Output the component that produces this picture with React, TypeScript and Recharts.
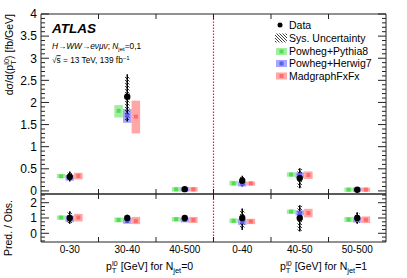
import React from "react";
import { ComposedChart, Scatter, ErrorBar, XAxis, YAxis, ReferenceArea, ReferenceLine } from "recharts";

const categories = ["0-30", "30-40", "40-500", "0-40", "40-50", "50-500"];

// upper panel, dσ/dpT [fb/GeV]
const dataVal = [0.32, 2.13, 0.04, 0.23, 0.29, 0.025];
const dataLo = [0.21, 1.57, 0.02, 0.1, 0.06, 0.01];
const dataHi = [0.44, 2.64, 0.06, 0.34, 0.51, 0.04];
const sysLo = [0.23, 1.6, 0.025, 0.11, 0.08, 0.015];
const sysHi = [0.42, 2.6, 0.055, 0.33, 0.5, 0.035];

const pythiaVal = [0.33, 1.81, 0.035, 0.17, 0.37, 0.028];
const pythiaLo = [0.29, 1.66, -0.015, 0.12, 0.32, -0.02];
const pythiaHi = [0.38, 1.94, 0.085, 0.23, 0.42, 0.075];
const herwigVal = [0.3, 1.7, 0.035, 0.16, 0.36, 0.028];
const herwigLo = [0.23, 1.54, -0.015, 0.1, 0.29, -0.02];
const herwigHi = [0.36, 1.85, 0.085, 0.21, 0.42, 0.075];
const madgraphVal = [0.34, 1.68, 0.035, 0.17, 0.36, 0.028];
const madgraphLo = [0.26, 1.3, -0.015, 0.12, 0.27, -0.02];
const madgraphHi = [0.41, 2.04, 0.085, 0.21, 0.44, 0.075];

// lower panel, Pred. / Obs.
const ratioData = [1, 1, 1, 1, 1, 1];
const ratioDataLo = [0.62, 0.67, 0.77, 0.22, 0.11, 0.62];
const ratioDataHi = [1.44, 1.22, 1.2, 1.62, 1.84, 1.37];
const ratioSysLo = [0.66, 0.7, 0.8, 0.28, 0.16, 0.66];
const ratioSysHi = [1.4, 1.2, 1.17, 1.56, 1.8, 1.33];
const ratioPythia = [1.03, 0.87, 0.92, 0.82, 1.42, 0.9];
const ratioPythiaLo = [0.89, 0.71, 0.77, 0.67, 1.27, 0.73];
const ratioPythiaHi = [1.17, 1.04, 1.07, 0.97, 1.55, 1.07];
const ratioHerwig = [0.97, 0.82, 0.87, 0.75, 1.33, 0.87];
const ratioHerwigLo = [0.73, 0.62, 0.71, 0.55, 1.17, 0.7];
const ratioHerwigHi = [1.15, 1.0, 1.02, 0.93, 1.5, 1.03];
const ratioMadgraph = [1.03, 0.8, 0.87, 0.77, 1.33, 0.88];
const ratioMadgraphLo = [0.77, 0.6, 0.67, 0.6, 1.04, 0.67];
const ratioMadgraphHi = [1.27, 1.07, 1.07, 0.95, 1.6, 1.1];

const FONT = "'Liberation Sans', Arial, Helvetica, sans-serif";
const AXIS = "#222";
const HALF_BOX = 0.074;
const HALF_HATCH = 0.04;

const modelStyles = [
  { name: "Powheg+Pythia8", off: -0.15, box: "#2fd62f", mark: "#52dc52" },
  { name: "Powheg+Herwig7", off: 0, box: "#3a3aff", mark: "#5c5cf2" },
  { name: "MadgraphFxFx", off: 0.15, box: "#ff3a3a", mark: "#ff6a6a" },
];

type Band = { val: number[]; lo: number[]; hi: number[] };

const steps = (a: number, b: number, s: number) => {
  const out: number[] = [];
  for (let v = a; v <= b + 1e-9; v += s) out.push(Math.round(v * 1000) / 1000);
  return out;
};
const onStep = (v: number, s: number) => Math.abs(v / s - Math.round(v / s)) < 1e-6;

const leftTick = (labelStep: number, majorStep: number) => (p: any) => {
  const v = p.payload.value;
  return (
    <g>
      <line x1={p.x} x2={p.x + (onStep(v, majorStep) ? 8 : 4)} y1={p.y} y2={p.y} stroke={AXIS} />
      {onStep(v, labelStep) && (
        <text x={p.x - 4} y={p.y + 4.3} textAnchor="end" fontSize={12} fontFamily={FONT} fill="#000">
          {String(v)}
        </text>
      )}
    </g>
  );
};

const rightTick = (majorStep: number) => (p: any) => (
  <line x1={p.x} x2={p.x - (onStep(p.payload.value, majorStep) ? 8 : 4)} y1={p.y} y2={p.y} stroke={AXIS} />
);

const upTick = (p: any) => <line x1={p.x} x2={p.x} y1={p.y} y2={p.y - 5} stroke={AXIS} />;
const downTick = (p: any) => <line x1={p.x} x2={p.x} y1={p.y} y2={p.y + 5} stroke={AXIS} />;

const labelTick = (p: any) => {
  const v = p.payload.value;
  if (onStep(v, 1)) return upTick(p);
  return (
    <text x={p.x} y={p.y + 11} textAnchor="middle" fontSize={10} fontFamily={FONT} fill="#000">
      {categories[Math.floor(v)]}
    </text>
  );
};

const edgeTicks = [1, 2, 3, 4, 5];

function Panel(props: {
  height: number;
  margin: { top: number; right: number; bottom: number; left: number };
  domain: [number, number];
  yTicks: number[];
  labelStep: number;
  majorStep: number;
  data: Band;
  sys: { lo: number[]; hi: number[] };
  models: Band[];
  bottomTicks: number[];
  bottomTick: any;
}) {
  const { data, sys, models } = props;
  const dataRows = categories.map((_, i) => ({
    x: i + 0.5,
    y: data.val[i],
    err: [data.val[i] - data.lo[i], data.hi[i] - data.val[i]],
  }));
  return (
    <ComposedChart width={407} height={props.height} margin={props.margin} style={{ overflow: "visible" }}>
      <XAxis
        dataKey="x"
        type="number"
        domain={[0, 6]}
        allowDataOverflow
        ticks={props.bottomTicks}
        interval={0}
        height={1}
        tickSize={0}
        tickMargin={0}
        tickLine={false}
        tick={props.bottomTick}
        axisLine={{ stroke: AXIS }}
      />
      <XAxis
        xAxisId="top"
        orientation="top"
        dataKey="x"
        type="number"
        domain={[0, 6]}
        allowDataOverflow
        ticks={edgeTicks}
        interval={0}
        height={1}
        tickSize={0}
        tickMargin={0}
        tickLine={false}
        tick={downTick}
        axisLine={{ stroke: AXIS }}
      />
      <YAxis
        type="number"
        domain={props.domain}
        allowDataOverflow
        ticks={props.yTicks}
        interval={0}
        width={41}
        tickSize={0}
        tickMargin={0}
        tickLine={false}
        tick={leftTick(props.labelStep, props.majorStep)}
        axisLine={{ stroke: AXIS }}
      />
      <YAxis
        yAxisId="r"
        orientation="right"
        type="number"
        domain={props.domain}
        allowDataOverflow
        ticks={props.yTicks}
        interval={0}
        width={1}
        tickSize={0}
        tickMargin={0}
        tickLine={false}
        tick={rightTick(props.majorStep)}
        axisLine={{ stroke: AXIS }}
      />
      {models.map((m, k) =>
        categories.map((c, i) => (
          <ReferenceArea
            key={`${k}-${c}-${i}`}
            x1={i + 0.5 + modelStyles[k].off - HALF_BOX}
            x2={i + 0.5 + modelStyles[k].off + HALF_BOX}
            y1={m.lo[i]}
            y2={m.hi[i]}
            fill={modelStyles[k].box}
            fillOpacity={0.45}
            stroke="none"
          />
        ))
      )}
      {models.map((m, k) => (
        <Scatter
          key={modelStyles[k].name}
          data={categories.map((_, i) => ({ x: i + 0.5 + modelStyles[k].off, y: m.val[i] }))}
          dataKey="y"
          isAnimationActive={false}
          shape={(p: any) => <rect x={p.cx - 2} y={p.cy - 2} width={4} height={4} fill={modelStyles[k].mark} />}
        />
      ))}
      {categories.map((c, i) => (
        <ReferenceArea
          key={`sys-${c}-${i}`}
          x1={i + 0.5 - HALF_HATCH}
          x2={i + 0.5 + HALF_HATCH}
          y1={sys.lo[i]}
          y2={sys.hi[i]}
          fill="url(#hatch)"
          fillOpacity={1}
          stroke="none"
        />
      ))}
      <Scatter
        data={dataRows}
        dataKey="y"
        isAnimationActive={false}
        shape={(p: any) => <circle cx={p.cx} cy={p.cy} r={3.2} fill="#000" />}
      >
        <ErrorBar dataKey="err" direction="y" width={0} stroke="#000" strokeWidth={1.5} />
      </Scatter>
      <ReferenceLine x={3} stroke="#e8202a" strokeOpacity={1} strokeDasharray="1.5 1.5" strokeWidth={1.2} />
    </ComposedChart>
  );
}

function LegendBox({ y, color, mark }: { y: number; color: string; mark: string }) {
  return (
    <g>
      <rect x={276} y={y - 3.5} width={11} height={7} fill={color} fillOpacity={0.45} />
      <rect x={279.5} y={y - 2} width={4} height={4} fill={mark} />
    </g>
  );
}

export default function App() {
  const top = {
    data: { val: dataVal, lo: dataLo, hi: dataHi },
    sys: { lo: sysLo, hi: sysHi },
    models: [
      { val: pythiaVal, lo: pythiaLo, hi: pythiaHi },
      { val: herwigVal, lo: herwigLo, hi: herwigHi },
      { val: madgraphVal, lo: madgraphLo, hi: madgraphHi },
    ],
  };
  const ratio = {
    data: { val: ratioData, lo: ratioDataLo, hi: ratioDataHi },
    sys: { lo: ratioSysLo, hi: ratioSysHi },
    models: [
      { val: ratioPythia, lo: ratioPythiaLo, hi: ratioPythiaHi },
      { val: ratioHerwig, lo: ratioHerwigLo, hi: ratioHerwigHi },
      { val: ratioMadgraph, lo: ratioMadgraphLo, hi: ratioMadgraphHi },
    ],
  };
  const legendRows = [51.5, 63.5, 76];
  return (
    <div style={{ position: "absolute", left: 0, top: 0, width: 407, height: 278, background: "#fff", fontFamily: FONT }}>
      <svg width={0} height={0} style={{ position: "absolute" }}>
        <defs>
          <pattern id="hatch" patternUnits="userSpaceOnUse" width={3} height={3}>
            <path d="M0,0 L3,3 M-1,2 L1,4 M2,-1 L4,1" stroke="#111" strokeWidth={0.8} />
          </pattern>
        </defs>
      </svg>
      <div style={{ position: "absolute", left: 0, top: 0 }}>
        <Panel
          height={200}
          margin={{ top: 13, right: 20, bottom: 5, left: 0 }}
          domain={[-0.07, 4]}
          yTicks={steps(0, 4, 0.1)}
          labelStep={0.5}
          majorStep={0.5}
          bottomTicks={edgeTicks}
          bottomTick={upTick}
          {...top}
        />
      </div>
      <div style={{ position: "absolute", left: 0, top: 190 }}>
        <Panel
          height={88}
          margin={{ top: 3, right: 20, bottom: 35, left: 0 }}
          domain={[-0.57, 2.57]}
          yTicks={steps(-0.5, 2.5, 0.25)}
          labelStep={1}
          majorStep={1}
          bottomTicks={steps(0.5, 5.5, 0.5)}
          bottomTick={labelTick}
          {...ratio}
        />
      </div>
      <svg
        width={407}
        height={278}
        style={{ position: "absolute", left: 0, top: 0, pointerEvents: "none" }}
        fontFamily={FONT}
      >
        <text x={52} y={32.5} fontSize={13.5} fontWeight="bold" fontStyle="italic">ATLAS</text>
        <text x={52} y={48.5} fontSize={8.3}>
          <tspan fontStyle="italic">H→WW→eνμν</tspan>; <tspan fontStyle="italic">N</tspan>
          <tspan fontSize={6} dy={2}>jet</tspan>
          <tspan dy={-2}>=0,1</tspan>
        </text>
        <text x={52} y={63.3} fontSize={8.3}>
          √<tspan textDecoration="overline">s</tspan> = 13 TeV, 139 fb<tspan fontSize={6} dy={-3.5}>−1</tspan>
        </text>

        <circle cx={280} cy={25} r={2.5} fill="#000" />
        <text x={289} y={28.7} fontSize={10.5}>Data</text>
        <rect x={275} y={33.5} width={12} height={9} fill="url(#hatch)" />
        <text x={289} y={41.9} fontSize={10.5}>Sys. Uncertainty</text>
        {modelStyles.map((m, k) => (
          <g key={m.name}>
            <LegendBox y={legendRows[k]} color={m.box} mark={m.mark} />
            <text x={289} y={legendRows[k] + 3.7} fontSize={10.5}>{m.name}</text>
          </g>
        ))}

        <text transform="rotate(-90)" x={-14} y={13} textAnchor="end" fontSize={10.5}>
          dσ/d(p<tspan fontSize={7.5} dy={2.5}>T</tspan>
          <tspan fontSize={7.5} dx={-4.5} dy={-7}>l0</tspan>
          <tspan dy={4.5}>) [fb/GeV]</tspan>
        </text>
        <text transform="rotate(-90)" x={-200} y={12} textAnchor="end" fontSize={10.5}>Pred. / Obs.</text>

        <text x={106} y={270} fontSize={10.5}>
          p<tspan fontSize={7.5} dy={2.5}>T</tspan>
          <tspan fontSize={7.5} dx={-4.5} dy={-7}>l0</tspan>
          <tspan dy={4.5}> [GeV] for N</tspan>
          <tspan fontSize={7.5} dy={2.5}>jet</tspan>
          <tspan dy={-2.5}>=0</tspan>
        </text>
        <text x={280} y={270} fontSize={10.5}>
          p<tspan fontSize={7.5} dy={2.5}>T</tspan>
          <tspan fontSize={7.5} dx={-4.5} dy={-7}>l0</tspan>
          <tspan dy={4.5}> [GeV] for N</tspan>
          <tspan fontSize={7.5} dy={2.5}>jet</tspan>
          <tspan dy={-2.5}>=1</tspan>
        </text>
      </svg>
    </div>
  );
}
